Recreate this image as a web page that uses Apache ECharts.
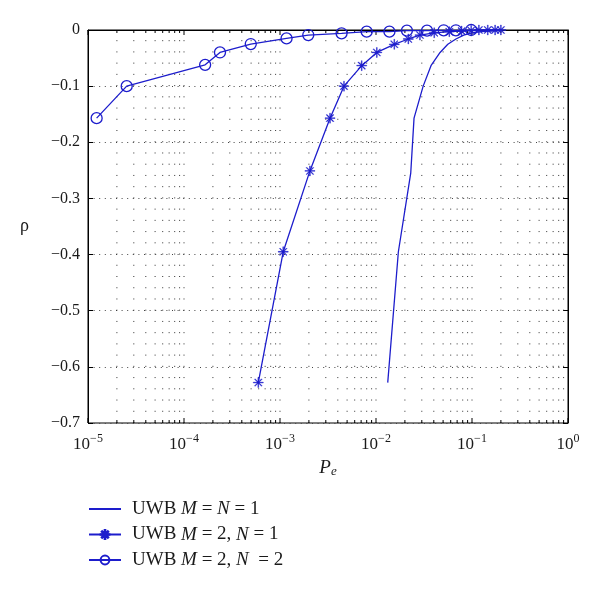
<!DOCTYPE html>
<html><head><meta charset="utf-8">
<script src="https://cdn.jsdelivr.net/npm/echarts@6/dist/echarts.min.js"></script>
<style>html,body{margin:0;padding:0;background:#fff}#c{width:600px;height:590px}</style>
</head><body><div id="c"></div>
<script>
const seriesNames = ['UWB M = N = 1', 'UWB M = 2, N = 1', 'UWB M = 2, N  = 2'];
const pe1 = [0.01325, 0.0171, 0.0230, 0.0249, 0.031, 0.0374, 0.0465, 0.056, 0.068, 0.082, 0.1, 0.125, 0.16, 0.2];
const rho1 = [-0.628, -0.395, -0.255, -0.157, -0.100, -0.0635, -0.040, -0.0255, -0.016, -0.009, -0.005, -0.003, -0.002, -0.001];
const pe2 = [5.94e-4, 1.08e-3, 2.05e-3, 3.32e-3, 4.64e-3, 7.1e-3, 1.02e-2, 1.55e-2, 2.17e-2, 2.87e-2, 4.04e-2, 5.8e-2, 7.8e-2, 9.8e-2, 0.118, 0.146, 0.174, 0.2];
const rho2 = [-0.628, -0.395, -0.251, -0.157, -0.100, -0.0635, -0.040, -0.0255, -0.016, -0.009, -0.005, -0.003, -0.002, -0.001, 0, 0, 0, 0];
const pe3 = [1.23e-5, 2.53e-5, 1.66e-4, 2.37e-4, 4.96e-4, 1.17e-3, 1.97e-3, 4.38e-3, 8.0e-3, 1.38e-2, 2.1e-2, 3.4e-2, 5.07e-2, 6.8e-2, 9.8e-2];
const rho3 = [-0.157, -0.100, -0.062, -0.040, -0.025, -0.015, -0.009, -0.006, -0.003, -0.003, -0.001, -0.001, -0.0005, -0.0005, 0];
const xDecadeExps = [-5, -4, -3, -2, -1, 0];
const yMin = -0.7, yMax = 0, yStep = 0.1;

const blue = '#1d1dcc';
const serif = 'Liberation Serif';
const txt = '#1a1a1a';
const starPath = 'path://M9.2 0H10.8V20H9.2Z M0 9.2H20V10.8H0Z M3.566 2.434L17.566 16.434L16.434 17.566L2.434 3.566Z M17.566 3.566L3.566 17.566L2.434 16.434L16.434 2.434Z';

const zip = (xs, ys) => xs.map((x, i) => [x, ys[i]]);

// log-axis grid/tick positions (decades + 2..9 minors)
const logGrid = [];
for (let k = 0; k < xDecadeExps.length; k++) {
  const e = xDecadeExps[k];
  logGrid.push([Math.pow(10, e), -0.35, 1]);
  if (k < xDecadeExps.length - 1) for (let m = 2; m <= 9; m++) logGrid.push([m * Math.pow(10, e), -0.35, 0]);
}

const chart = echarts.init(document.getElementById('c'), null, {renderer: 'canvas'});
const richName = n => '{g|}{n|' + n.replace(/([MN])/g, '}{i|$1}{n|') + '}';

chart.setOption({
  animation: false,
  backgroundColor: '#fff',
  grid: {left: 88, right: 32, top: 30, bottom: 167, show: true, borderColor: '#000', borderWidth: 1, backgroundColor: 'transparent'},
  legend: {
    data: [
      {name: seriesNames[0], itemStyle: {opacity: 0}},
      {name: seriesNames[1]},
      {name: seriesNames[2]}
    ],
    orient: 'vertical', left: 88, top: 499.5, padding: 0,
    itemWidth: 32, itemHeight: 11, itemGap: 6.5, itemTextGap: 12,
    formatter: richName,
    textStyle: {
      rich: {
        g: {width: 6, lineHeight: 18},
        n: {fontFamily: serif, fontSize: 19, color: txt, lineHeight: 18},
        i: {fontFamily: serif, fontSize: 19, fontStyle: 'italic', color: txt, lineHeight: 18}
      }
    }
  },
  xAxis: {
    type: 'log', logBase: 10, min: 1e-5, max: 1,
    name: '{p|P}{e|e}', nameLocation: 'middle', nameGap: 35,
    nameTextStyle: {rich: {
      p: {fontFamily: serif, fontStyle: 'italic', fontSize: 19, color: txt, verticalAlign: 'top', lineHeight: 20},
      e: {fontFamily: serif, fontStyle: 'italic', fontSize: 13, color: txt, verticalAlign: 'bottom', lineHeight: 14}
    }},
    axisLine: {show: true, lineStyle: {color: '#000', width: 1}},
    axisTick: {show: false},
    splitLine: {show: false},
    axisLabel: {
      margin: 10,
      formatter: v => { const e = Math.round(Math.log10(v)); return '{b|10}{s|' + (e < 0 ? '\u2212' + (-e) : e) + '}'; },
      rich: {
        b: {fontFamily: serif, fontSize: 17, color: txt, verticalAlign: 'bottom', lineHeight: 20},
        s: {fontFamily: serif, fontSize: 12, color: txt, verticalAlign: 'top', lineHeight: 10}
      }
    }
  },
  yAxis: [{
    type: 'value', min: yMin, max: yMax, interval: yStep,
    name: 'ρ', nameLocation: 'middle', nameRotate: 0, nameGap: 59,
    nameTextStyle: {fontFamily: serif, fontSize: 18, color: txt},
    axisLine: {show: true, lineStyle: {color: '#000', width: 1}},
    axisTick: {show: true, inside: true, length: 5, lineStyle: {color: '#000'}},
    axisLabel: {margin: 8, fontFamily: serif, fontSize: 16, color: txt,
      formatter: v => Math.abs(v) < 1e-9 ? '0' : '\u2212' + Math.abs(v).toFixed(1)},
    splitLine: {show: true, lineStyle: {color: '#444', width: 1, type: [1, 4.6]}}
  }, {
    type: 'value', min: yMin, max: yMax, interval: yStep, position: 'right',
    axisLine: {show: true, lineStyle: {color: '#000', width: 1}},
    axisTick: {show: true, inside: true, length: 5, lineStyle: {color: '#000'}},
    axisLabel: {show: false}, splitLine: {show: false}
  }],
  series: [
    {
      type: 'custom', name: 'grid', silent: true, z: 1, clip: false,
      data: logGrid, encode: {x: 0, y: 1},
      renderItem: (params, api) => {
        const x = api.coord([api.value(0), api.value(1)])[0];
        const cs = params.coordSys;
        const major = api.value(2) === 1;
        const tl = major ? 5 : 3;
        const bot = cs.y + cs.height, top = cs.y;
        const ch = [];
        if (x > cs.x + 1 && x < cs.x + cs.width - 1) {
          ch.push({type: 'line', shape: {x1: x, y1: bot, x2: x, y2: top}, style: {stroke: '#333', lineWidth: 1, lineDash: [1, 10.23]}});
        }
        ch.push({type: 'line', shape: {x1: x, y1: bot, x2: x, y2: bot - tl}, style: {stroke: '#000', lineWidth: 1}});
        ch.push({type: 'line', shape: {x1: x, y1: top, x2: x, y2: top + tl}, style: {stroke: '#000', lineWidth: 1}});
        return {type: 'group', children: ch};
      }
    },
    {
      name: seriesNames[0], type: 'line', data: zip(pe1, rho1), showSymbol: false, symbol: 'none', z: 3,
      lineStyle: {color: blue, width: 1.3}, itemStyle: {color: blue}
    },
    {
      name: seriesNames[1], type: 'line', data: zip(pe2, rho2), symbol: starPath, symbolSize: 10, z: 4,
      lineStyle: {color: blue, width: 1.3}, itemStyle: {color: blue, borderColor: blue, borderWidth: 0.4}
    },
    {
      name: seriesNames[2], type: 'line', data: zip(pe3, rho3), symbol: 'circle', symbolSize: 11, z: 5,
      lineStyle: {color: blue, width: 1.3}, itemStyle: {color: 'rgba(255,255,255,0)', borderColor: blue, borderWidth: 1.3}
    }
  ]
});
</script></body></html>
